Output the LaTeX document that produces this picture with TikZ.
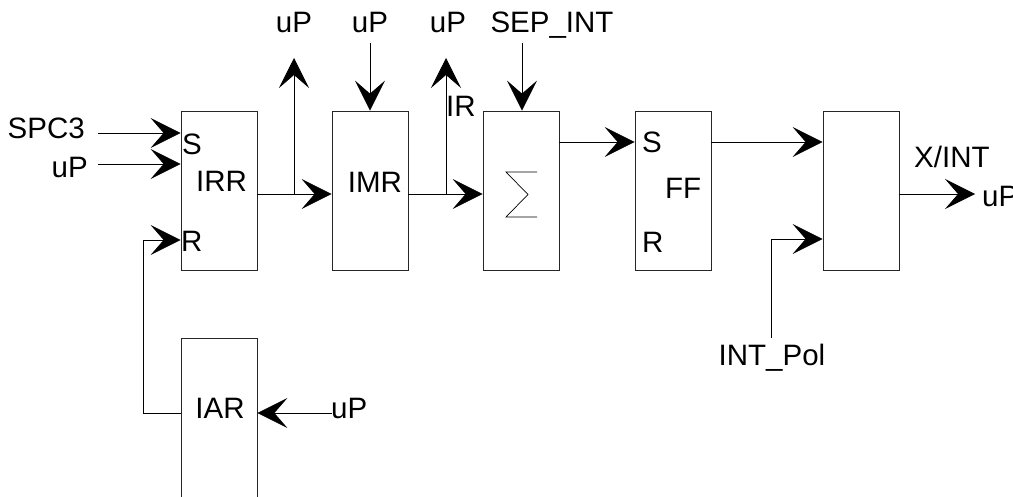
\documentclass[tikz,border=0pt]{standalone}
\usepackage{fontspec}
\setmainfont{Liberation Sans}
\usetikzlibrary{arrows.meta}
\begin{document}
\begin{tikzpicture}[x=1pt,y=-1pt,
  blk/.style={draw=black!85,line width=0.8pt,minimum width=76pt,minimum height=159pt,inner sep=0pt},
  lbl/.style={inner sep=0pt,font=\fontsize{29.5}{32}\selectfont},
  wire/.style={draw=black,line width=0.8pt},
  arr/.style={wire,-{Stealth[length=30pt,width=30pt,inset=13pt]}}]
\useasboundingbox (0,0) rectangle (1013,497);
% boxes
\node[blk] (irr) at (219,190.5) {};
\node[blk] (imr) at (370,190.5) {};
\node[blk] (sig) at (521,190.5) {};
\node[blk] (ff)  at (673,190.5) {};
\node[blk] (out) at (861,190.5) {};
\node[blk] (iar) at (219,417.5) {};
% labels in boxes
\node[lbl,anchor=base west] (irrS) at (182,155) {S};
\node[lbl,anchor=base west] (irrT) at (196,192) {IRR};
\node[lbl,anchor=base west] (irrR) at (181,252) {R};
\node[lbl,anchor=base] (imrT) at (375,193) {IMR};
\node[lbl,anchor=base west] (ffS) at (642,153) {S};
\node[lbl,anchor=base west] (ffT) at (665,199) {FF};
\node[lbl,anchor=base west] (ffR) at (642,253) {R};
\node[lbl,anchor=base] (iarT) at (220,418) {IAR};
% sigma
\draw[line width=0.7pt] (537,172) -- (506,172) -- (528,194.5) -- (506,217) -- (537,217);
% outside labels
\node[lbl,anchor=base east] (spc) at (85,139) {SPC3};
\node[lbl,anchor=base east] (upl) at (88,178) {uP};
\node[lbl,anchor=base] (up1) at (294,33) {uP};
\node[lbl,anchor=base] (up2) at (370,33) {uP};
\node[lbl,anchor=base] (up3) at (448,33) {uP};
\node[lbl,anchor=base] (sep) at (552,33) {SEP\_INT};
\node[lbl,anchor=base west] (ir) at (446,117) {IR};
\node[lbl,anchor=base west] (xint) at (914,168) {X/INT};
\node[lbl,anchor=base west] (upr) at (982,207) {uP};
\node[lbl,anchor=base] (pol) at (772,366) {INT\_Pol};
\node[lbl,anchor=base west] (upiar) at (331,418) {uP};
% coordinates
\coordinate (c1) at (98,133);
\coordinate (c2) at (98,164);
\coordinate (b1) at (294,194);
\coordinate (t1) at (294,58);
\coordinate (b2) at (446,194);
\coordinate (t2) at (446,58);
\coordinate (s2) at (370,43);
\coordinate (s3) at (522,43);
\coordinate (fbk1) at (143,413);
\coordinate (fbk2) at (143,240);
\coordinate (pol1) at (771,338);
\coordinate (pol2) at (771,239);
\coordinate (iin) at (332,413);
\coordinate (otip) at (975,194);
% connectors
\draw[arr] (c1) -- (irr.west |- 0,133);
\draw[arr] (c2) -- (irr.west |- 0,164);
\draw[arr] (irr.east |- 0,194) -- (imr.west |- 0,194);
\draw[arr] (b1) -- (t1);
\draw[arr] (s2) -- (imr.north);
\draw[arr] (imr.east |- 0,194) -- (sig.west |- 0,194);
\draw[arr] (b2) -- (t2);
\draw[arr] (s3) -- (sig.north -| s3);
\draw[arr] (sig.east |- 0,142) -- (ff.west |- 0,142);
\draw[arr] (ff.east |- 0,142) -- (out.west |- 0,142);
\draw[arr] (pol1) -- (pol2) -- (out.west |- pol2);
\draw[arr] (out.east |- otip) -- (otip);
\draw[arr] (iar.west |- fbk1) -- (fbk1) -- (fbk2) -- (irr.west |- fbk2);
\draw[arr] (iin) -- (iar.east |- iin);
\end{tikzpicture}
\end{document}
